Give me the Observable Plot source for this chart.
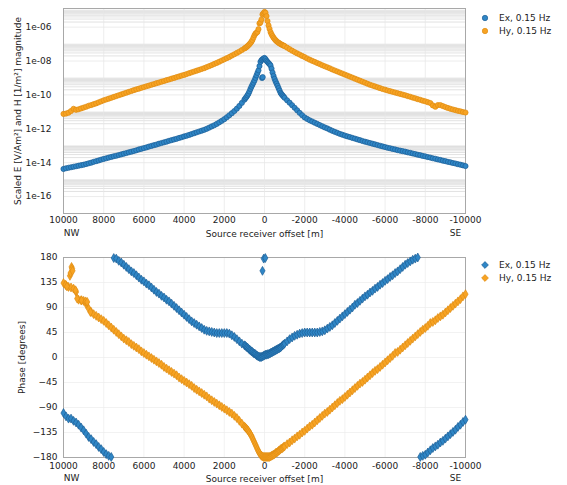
<!DOCTYPE html>
<html>
<head>
<meta charset="utf-8">
<script src="https://cdn.jsdelivr.net/npm/d3@7"></script>
<script src="https://cdn.jsdelivr.net/npm/@observablehq/plot@0.6"></script>
<style>
  html, body { margin: 0; padding: 0; background: #fff; }
  #wrap { position: relative; width: 567px; height: 485px; font-family: "DejaVu Sans", sans-serif; }
  #wrap svg { display: block; }
  .legend { position: absolute; font-size: 9px; color: #222; line-height: 12.5px; }
  .legend div { display: flex; align-items: center; white-space: nowrap; }
  .legend svg { margin-right: 10px; }
</style>
</head>
<body>
<div id="wrap"></div>
<script>
// ---------------- data ----------------
// source-receiver offsets [m]
const offsetsNW = [
  10000,9875,9750,9625,9500,9375,9250,9125,
  9000,8875,8750,8625,8500,8375,8250,8125,
  8000,7875,7750,7625,7500,7375,7250,7125,
  7000,6875,6750,6625,6500,6375,6250,6125,
  6000,5875,5750,5625,5500,5375,5250,5125,
  5000,4875,4750,4625,4500,4375,4250,4125,
  4000,3875,3750,3625,3500,3375,3250,3125,
  3000,2875,2750,2625,2500,2375,2250,2125,
  2000,1875,1750,1625,1500,1375,1250,1125,
  1000
];
const offsetsNear = [
  950,900,850,800,750,700,650,600,550,500,450,400,350,300,250,200,150,100,50,0,
  -50,-100,-150,-200,-250,-300,-350,-400,-450,-500,-550,-600,-650,-700,-750,-800,-850,-900,-950
];
const offsetsSE = [
  -1000,-1125,-1250,-1375,-1500,-1625,-1750,-1875,
  -2000,-2125,-2250,-2375,-2500,-2625,-2750,-2875,
  -3000,-3125,-3250,-3375,-3500,-3625,-3750,-3875,
  -4000,-4125,-4250,-4375,-4500,-4625,-4750,-4875,
  -5000,-5125,-5250,-5375,-5500,-5625,-5750,-5875,
  -6000,-6125,-6250,-6375,-6500,-6625,-6750,-6875,
  -7000,-7125,-7250,-7375,-7500,-7625,-7750,-7875,
  -8000,-8125,-8250,-8375,-8500,-8625,-8750,-8875,
  -9000,-9125,-9250,-9375,-9500,-9625,-9750,-9875,
  -10000
];

// log10 of the magnitude, Hy
const hyMagExpNW = [
  -11.12,-11.10,-11.05,-10.95,-10.82,-10.88,-10.85,-10.80,
  -10.75,-10.70,-10.64,-10.60,-10.55,-10.50,-10.44,-10.38,
  -10.32,-10.27,-10.22,-10.17,-10.12,-10.07,-10.02,-9.97,
  -9.92,-9.87,-9.82,-9.77,-9.72,-9.67,-9.63,-9.58,
  -9.54,-9.49,-9.45,-9.40,-9.36,-9.31,-9.27,-9.22,
  -9.18,-9.13,-9.09,-9.04,-9.00,-8.95,-8.91,-8.86,
  -8.82,-8.77,-8.72,-8.67,-8.62,-8.57,-8.52,-8.47,
  -8.42,-8.36,-8.30,-8.24,-8.17,-8.11,-8.04,-7.97,
  -7.90,-7.83,-7.76,-7.68,-7.60,-7.52,-7.44,-7.35,
  -7.26
];
const hyMagExpNear = [
  -7.22,-7.18,-7.13,-7.07,-7.01,-6.94,-6.86,-6.76,-6.62,-6.48,-6.38,-6.33,-6.28,-6.12,-5.78,-5.72,-5.55,-5.25,-5.18,-5.10,
  -5.15,-5.35,-5.64,-5.90,-6.10,-6.29,-6.42,-6.53,-6.62,-6.70,-6.77,-6.83,-6.88,-6.92,-6.96,-7.00,-7.03,-7.06,-7.09
];
const hyMagExpSE = [
  -7.12,-7.21,-7.30,-7.39,-7.47,-7.55,-7.62,-7.70,
  -7.77,-7.85,-7.92,-7.99,-8.05,-8.12,-8.18,-8.25,
  -8.31,-8.37,-8.43,-8.50,-8.56,-8.62,-8.68,-8.74,
  -8.80,-8.86,-8.92,-8.98,-9.04,-9.10,-9.16,-9.22,
  -9.28,-9.34,-9.40,-9.45,-9.50,-9.55,-9.60,-9.65,
  -9.69,-9.74,-9.78,-9.82,-9.86,-9.90,-9.94,-9.98,
  -10.02,-10.07,-10.11,-10.16,-10.20,-10.25,-10.29,-10.34,
  -10.38,-10.43,-10.48,-10.62,-10.70,-10.60,-10.60,-10.66,
  -10.72,-10.77,-10.82,-10.86,-10.90,-10.94,-10.97,-11.01,
  -11.04
];

// log10 of the magnitude, Ex
const exMagExpNW = [
  -14.37,-14.33,-14.30,-14.27,-14.24,-14.21,-14.18,-14.15,
  -14.12,-14.08,-14.04,-14.00,-13.95,-13.91,-13.87,-13.82,
  -13.78,-13.74,-13.70,-13.66,-13.62,-13.59,-13.55,-13.51,
  -13.47,-13.43,-13.39,-13.35,-13.31,-13.27,-13.22,-13.18,
  -13.14,-13.10,-13.05,-13.01,-12.97,-12.93,-12.88,-12.84,
  -12.80,-12.76,-12.71,-12.67,-12.63,-12.59,-12.54,-12.50,
  -12.45,-12.41,-12.36,-12.31,-12.26,-12.21,-12.16,-12.11,
  -12.06,-12.00,-11.93,-11.86,-11.79,-11.71,-11.62,-11.53,
  -11.43,-11.32,-11.20,-11.08,-10.95,-10.81,-10.65,-10.47,
  -10.28
];
const exMagExpNear = [
  -10.20,-10.12,-10.03,-9.93,-9.80,-9.65,-9.52,-9.40,-9.28,-9.15,-9.00,-8.85,-8.70,-8.55,-8.30,-8.05,-7.95,-7.90,-7.85,-7.82,
  -7.88,-7.98,-8.05,-8.12,-8.18,-8.26,-8.45,-8.68,-8.88,-9.05,-9.20,-9.33,-9.46,-9.60,-9.74,-9.88,-9.96,-10.03,-10.10
];
const exMagExpSE = [
  -10.17,-10.32,-10.46,-10.61,-10.76,-10.91,-11.06,-11.20,
  -11.33,-11.42,-11.50,-11.57,-11.64,-11.71,-11.78,-11.85,
  -11.92,-11.98,-12.05,-12.12,-12.18,-12.24,-12.30,-12.35,
  -12.40,-12.45,-12.49,-12.54,-12.58,-12.63,-12.67,-12.72,
  -12.76,-12.80,-12.84,-12.88,-12.92,-12.96,-13.00,-13.04,
  -13.08,-13.12,-13.15,-13.19,-13.22,-13.26,-13.29,-13.32,
  -13.35,-13.39,-13.42,-13.46,-13.49,-13.53,-13.56,-13.60,
  -13.63,-13.67,-13.70,-13.74,-13.77,-13.81,-13.84,-13.88,
  -13.91,-13.95,-13.98,-14.02,-14.05,-14.09,-14.12,-14.16,
  -14.20
];
const exMagExtraOffsets = [120, 90];
const exMagExtraExp = [-9.00, -8.95];

// phase [degrees], Ex
const exPhaseNW = [
  -100,-106,-110,-110,-114,-117,-121,-126,
  -131,-137,-143,-147,-152,-156,-161,-165,
  -170,-174,-177,-179,179,178,174,171,
  167,163,159,155,152,148,144,140,
  137,133,130,126,122,118,115,111,
  108,104,101,97,93,89,85,81,
  77,73,69,65,62,59,56,53,
  50,48,47,46,45,44,44,44,
  44,44,43,40,37,33,29,25,
  22
];
const exPhaseNear = [
  21,19,18,16,14,13,11,10,8,7,6,4,3,2,1,1,1,2,3,4,
  5,5,6,6,7,8,9,10,11,12,13,14,15,16,17,18,20,22,23
];
const exPhaseSE = [
  25,29,33,36,39,41,43,44,
  45,45,45,45,45,45,46,47,
  49,52,55,58,62,66,70,74,
  78,82,86,90,95,98,102,106,
  110,113,117,120,124,127,131,134,
  138,141,145,148,152,155,159,163,
  167,170,173,176,178,180,-179,-177,
  -175,-171,-167,-163,-160,-157,-153,-150,
  -146,-142,-138,-134,-130,-125,-121,-116,
  -112
];
const exPhaseExtraOffsets = [100, 40, -40];
const exPhaseExtra = [156, 178, 179];

// phase [degrees], Hy
const hyPhaseNW = [
  134,130,127,126,124,118,104,103,
  102,96,88,82,78,75,72,69,
  66,62,58,54,50,46,42,38,
  34,31,28,24,21,18,15,11,
  8,5,2,-1,-4,-7,-10,-13,
  -17,-20,-23,-26,-29,-32,-36,-39,
  -42,-45,-48,-51,-55,-58,-61,-64,
  -67,-70,-74,-77,-80,-83,-86,-89,
  -92,-95,-98,-101,-105,-109,-114,-119,
  -124
];
const hyPhaseNear = [
  -126,-128,-130,-132,-135,-138,-141,-145,-149,-153,-157,-161,-165,-169,-172,-175,-177,-178,-179,-179,
  -179,-179,-179,-179,-179,-178,-177,-176,-175,-174,-172,-171,-170,-168,-167,-165,-164,-163,-161
];
const hyPhaseSE = [
  -160,-156,-153,-149,-146,-142,-139,-135,
  -132,-128,-124,-121,-117,-113,-109,-105,
  -101,-98,-94,-90,-86,-82,-78,-75,
  -71,-67,-63,-59,-55,-51,-47,-44,
  -40,-36,-32,-28,-24,-21,-17,-13,
  -9,-5,-1,3,8,10,14,18,
  22,26,30,34,38,42,46,50,
  53,57,62,64,67,71,74,77,
  81,85,89,93,97,101,105,110,
  114
];
const hyPhaseExtraOffsets = [9900, 9830, 9680, 9650, 9600, 9570, 9550, 9400, 9320, 9100, 8900, 8820, 8660];
const hyPhaseExtra = [131, 128, 147, 152, 163, 160, 156, 121, 106, 103, 101, 100, 82];

const seriesNames = ["Ex, 0.15 Hz", "Hy, 0.15 Hz"];
const xTicks = [10000, 8000, 6000, 4000, 2000, 0, -2000, -4000, -6000, -8000, -10000];
const magTickExponents = [-6, -8, -10, -12, -14, -16];
const phaseTicks = [180, 135, 90, 45, 0, -45, -90, -135, -180];
const directionLabels = ["NW", "SE"];
const xLabel = "Source receiver offset [m]";
const magLabel = "Scaled E [V/Am²] and H [1/m²] magnitude";
const phaseLabel = "Phase [degrees]";

// ---------------- styles ----------------
const blueFill = "#2f86c6", blueStroke = "#1c5f96";
const orangeFill = "#f7a323", orangeStroke = "#e08d12";
const font = {fontFamily: "DejaVu Sans, sans-serif", fontSize: "9px", background: "#fff", color: "#222"};

// ---------------- tables ----------------
const offsets = offsetsNW.concat(offsetsNear, offsetsSE);
const hyMagExp = hyMagExpNW.concat(hyMagExpNear, hyMagExpSE);
const exMagExp = exMagExpNW.concat(exMagExpNear, exMagExpSE);
const exPhase = exPhaseNW.concat(exPhaseNear, exPhaseSE);
const hyPhase = hyPhaseNW.concat(hyPhaseNear, hyPhaseSE);

const magEx = offsets.map((o, i) => ({x: o, y: 10 ** exMagExp[i]}))
  .concat(exMagExtraOffsets.map((o, i) => ({x: o, y: 10 ** exMagExtraExp[i]})));
const magHy = offsets.map((o, i) => ({x: o, y: 10 ** hyMagExp[i]}));
const phEx = offsets.map((o, i) => ({x: o, y: exPhase[i]}))
  .concat(exPhaseExtraOffsets.map((o, i) => ({x: o, y: exPhaseExtra[i]})));
const phHy = offsets.map((o, i) => ({x: o, y: hyPhase[i]}))
  .concat(hyPhaseExtraOffsets.map((o, i) => ({x: o, y: hyPhaseExtra[i]})));

const magTicks = magTickExponents.map(e => 10 ** e);
const minorGrid = [];
for (const e of magTickExponents) for (let m = 2; m <= 9; m++) minorGrid.push(m * 10 ** e);
const decadeGrid = [];
for (let e = -17; e <= -5; e++) decadeGrid.push(10 ** e);
const fmtExp = d => {
  const e = Math.round(Math.log10(d));
  return "1e" + (e < 0 ? "-" : "+") + String(Math.abs(e)).padStart(2, "0");
};

const W = 567, ML = 63, MR = 102;

// ---------------- top chart ----------------
const topChart = Plot.plot({
  width: W, height: 242,
  marginLeft: ML, marginRight: MR, marginTop: 8, marginBottom: 29,
  style: font,
  x: {domain: [10000, -10000]},
  y: {type: "log", domain: [1e-17, 10 ** -4.9]},
  marks: [
    Plot.ruleY(decadeGrid, {stroke: "#e4e4e4", strokeWidth: 0.7}),
    Plot.ruleY(minorGrid, {stroke: "#d6d6d6", strokeWidth: 0.7}),
    Plot.ruleX(xTicks, {stroke: "#e6e6e6", strokeWidth: 0.7}),
    Plot.frame({stroke: "#a8a8a8"}),
    Plot.axisY(magTicks, {tickSize: 0, tickPadding: 12, tickFormat: fmtExp,
      label: magLabel, labelAnchor: "center", labelArrow: "none", labelOffset: 49}),
    Plot.axisX(xTicks, {tickSize: 0, tickPadding: 3, tickFormat: d => String(d),
      label: xLabel, labelAnchor: "center", labelArrow: "none", labelOffset: 23}),
    Plot.text([directionLabels[0]], {x: () => xTicks[0], text: d => d, frameAnchor: "bottom", dy: 22, dx: 8}),
    Plot.text([directionLabels[1]], {x: () => xTicks[xTicks.length - 1], text: d => d, frameAnchor: "bottom", dy: 22, dx: -10}),
    Plot.dot(magEx, {x: "x", y: "y", r: 2.6, fill: blueFill, stroke: blueStroke, strokeWidth: 0.7}),
    Plot.dot(magHy, {x: "x", y: "y", r: 2.6, fill: orangeFill, stroke: orangeStroke, strokeWidth: 0.7})
  ]
});

// ---------------- bottom chart ----------------
const bottomChart = Plot.plot({
  width: W, height: 243,
  marginLeft: ML, marginRight: MR, marginTop: 15, marginBottom: 28,
  style: font,
  x: {domain: [10000, -10000]},
  y: {domain: [-180, 180]},
  marks: [
    Plot.ruleY(phaseTicks, {stroke: "#ececec", strokeWidth: 0.7}),
    Plot.ruleX(xTicks, {stroke: "#ececec", strokeWidth: 0.7}),
    Plot.frame({stroke: "#a8a8a8"}),
    Plot.axisY(phaseTicks, {tickSize: 0, tickPadding: 6,
      label: phaseLabel, labelAnchor: "center", labelArrow: "none", labelOffset: 45}),
    Plot.axisX(xTicks, {tickSize: 0, tickPadding: 5.5, tickFormat: d => String(d),
      label: xLabel, labelAnchor: "center", labelArrow: "none", labelOffset: 24}),
    Plot.text([directionLabels[0]], {x: () => xTicks[0], text: d => d, frameAnchor: "bottom", dy: 23, dx: 8}),
    Plot.text([directionLabels[1]], {x: () => xTicks[xTicks.length - 1], text: d => d, frameAnchor: "bottom", dy: 23, dx: -10}),
    Plot.dot(phEx, {x: "x", y: "y", r: 2.7, symbol: "diamond", fill: blueFill, stroke: blueStroke, strokeWidth: 0.7}),
    Plot.dot(phHy, {x: "x", y: "y", r: 2.7, symbol: "diamond", fill: orangeFill, stroke: orangeStroke, strokeWidth: 0.7})
  ]
});

const wrap = document.getElementById("wrap");
wrap.appendChild(topChart);
wrap.appendChild(bottomChart);

// ---------------- legends ----------------
function legend(topPx, shape) {
  const div = document.createElement("div");
  div.className = "legend";
  div.style.left = "481px";
  div.style.top = topPx + "px";
  const colors = [[blueFill, blueStroke], [orangeFill, orangeStroke]];
  seriesNames.forEach((name, i) => {
    const row = document.createElement("div");
    const s = shape === "circle"
      ? `<circle cx="4" cy="4" r="2.7" fill="${colors[i][0]}" stroke="${colors[i][1]}" stroke-width="0.7"/>`
      : `<path d="M4,0.6L7.4,4L4,7.4L0.6,4Z" fill="${colors[i][0]}" stroke="${colors[i][1]}" stroke-width="0.7"/>`;
    row.innerHTML = `<svg width="8" height="8">${s}</svg><span>${name}</span>`;
    div.appendChild(row);
  });
  wrap.appendChild(div);
}
legend(12, "circle");
legend(259, "diamond");
</script>
</body>
</html>
